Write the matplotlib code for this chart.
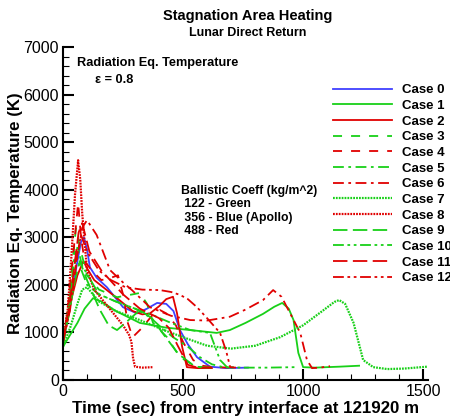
import matplotlib
matplotlib.use('Agg')
import matplotlib.pyplot as plt
from matplotlib.ticker import MultipleLocator

plt.rcParams['font.family'] = ['Liberation Sans', 'DejaVu Sans']

GREEN = '#18d018'
RED = '#e00000'
BLUE = '#4040ff'

# time (s) / radiation eq. temperature (K)
t0 = [0, 20, 40, 60, 75, 87, 100, 112, 140, 183, 250, 308, 350, 392, 430, 460, 487, 520, 558, 612, 680, 770]
T0 = [800, 1300, 1900, 2500, 2900, 3000, 2750, 2370, 2150, 1950, 1530, 1400, 1500, 1620, 1600, 1450, 1050, 750, 480, 280, 250, 260]

t1 = [0, 30, 60, 90, 125, 160, 220, 320, 430, 530, 640, 695, 760, 833, 880, 913, 940, 960, 980, 1000, 1050, 1150, 1233]
T1 = [700, 950, 1200, 1500, 1720, 1650, 1450, 1200, 1100, 1050, 990, 1050, 1200, 1390, 1540, 1620, 1500, 1260, 570, 270, 260, 280, 300]

t2 = [0, 30, 60, 85, 100, 130, 180, 230, 290, 330, 362, 400, 430, 458, 475, 496, 516, 560, 620]
T2 = [800, 1600, 2200, 2500, 2350, 2100, 1900, 1700, 1450, 1380, 1400, 1550, 1700, 1750, 1400, 700, 270, 250, 250]

t3 = [0, 20, 40, 54, 70, 100, 150, 225, 290, 320, 350, 375, 433, 487, 558, 620]
T3 = [750, 1400, 2500, 3190, 2800, 2200, 1900, 1740, 1800, 1830, 1600, 1200, 900, 480, 270, 260]

t4 = [0, 20, 40, 55, 63, 75, 90, 120, 160, 200, 229, 250, 270, 290, 330, 370, 404, 430, 470, 500, 542, 580, 625, 700]
T4 = [800, 1500, 2500, 3300, 3720, 3000, 2500, 2300, 2100, 2150, 2200, 1800, 1200, 900, 1100, 1350, 1470, 1400, 1150, 800, 420, 300, 270, 260]

t5 = [0, 25, 50, 70, 100, 150, 220, 300, 362, 410, 458, 520, 570, 620, 667, 710]
T5 = [750, 1600, 2700, 2400, 2000, 1800, 1650, 1500, 1320, 1100, 900, 700, 480, 330, 270, 260]

t6 = [0, 30, 60, 80, 100, 140, 196, 250, 287, 362, 450, 530, 600, 695, 760, 833, 875, 910, 946, 988, 1016, 1037, 1070, 1112]
T6 = [800, 1500, 2600, 3200, 3360, 3050, 2310, 2050, 1890, 1530, 1350, 1260, 1250, 1330, 1480, 1680, 1890, 1750, 1400, 990, 420, 250, 260, 290]

t7 = [0, 30, 60, 80, 100, 150, 220, 320, 420, 500, 600, 700, 800, 904, 1000, 1080, 1130, 1150, 1175, 1210, 1250, 1292, 1350, 1420, 1517]
T7 = [700, 1100, 1600, 1900, 1950, 1650, 1450, 1260, 1050, 900, 720, 660, 720, 900, 1150, 1450, 1640, 1680, 1600, 1200, 420, 270, 230, 240, 280]

t8 = [0, 20, 35, 50, 63, 72, 80, 100, 130, 170, 210, 250, 275, 285, 292, 300, 330, 375]
T8 = [800, 1500, 2600, 3900, 4620, 4200, 3500, 2300, 1900, 1650, 1400, 1150, 950, 800, 450, 280, 260, 270]

t9 = [0, 25, 50, 70, 100, 154, 190, 225, 260, 320, 370, 420, 480, 550, 620]
T9 = [750, 1400, 2100, 2500, 2100, 1470, 1150, 1050, 1200, 1470, 1300, 950, 550, 280, 260]

t10 = [0, 25, 45, 60, 80, 150, 220, 300, 380, 450, 530, 612, 654, 683, 750, 850, 967]
T10 = [750, 1500, 2300, 2800, 2400, 1800, 1650, 1500, 1350, 1200, 1050, 990, 420, 270, 260, 260, 270]

t11 = [0, 25, 50, 65, 80, 110, 160, 250, 320, 400, 440, 480, 520, 560, 620]
T11 = [800, 1500, 2500, 3100, 3300, 2700, 2300, 1800, 1500, 1300, 1100, 700, 320, 260, 260]

t12 = [0, 30, 55, 75, 100, 150, 200, 260, 330, 404, 450, 487, 520, 558, 600, 654, 680, 696, 720]
T12 = [800, 1500, 2500, 3050, 2700, 2300, 2100, 1950, 1900, 1890, 1850, 1790, 1700, 1530, 1300, 990, 600, 270, 260]

dotted = (0, (0.8, 0.5))
dashed = (0, (5, 5))
longdash = (0, (8, 3))
dashdot = (0, (6, 2.5, 1.5, 2.5))
dashdotdot = (0, (6, 2, 1.5, 2, 1.5, 2))

series = [
    (t0, T0, BLUE, '-'),
    (t1, T1, GREEN, '-'),
    (t2, T2, RED, '-'),
    (t3, T3, GREEN, dashed),
    (t4, T4, RED, dashed),
    (t5, T5, GREEN, dashdot),
    (t6, T6, RED, dashdot),
    (t7, T7, GREEN, dotted),
    (t8, T8, RED, dotted),
    (t9, T9, GREEN, longdash),
    (t10, T10, GREEN, dashdotdot),
    (t11, T11, RED, longdash),
    (t12, T12, RED, dashdotdot),
]

fig = plt.figure(figsize=(4.5, 4.18), dpi=100)
ax = fig.add_axes([63 / 450, 38 / 418, 365 / 450, 333 / 418])

for i, (t, T, c, ls) in enumerate(series):
    lw = 1.6 if ls is dotted else 1.3
    ax.plot(t, T, color=c, linestyle=ls, linewidth=lw, label='Case %d' % i)

ax.set_xlim(0, 1520)
ax.set_ylim(0, 7000)
ax.xaxis.set_major_locator(MultipleLocator(500))
ax.xaxis.set_minor_locator(MultipleLocator(100))
ax.yaxis.set_major_locator(MultipleLocator(1000))
ax.yaxis.set_minor_locator(MultipleLocator(200))
ax.tick_params(which='major', direction='in', length=8, width=1.5, labelsize=11.5, pad=3)
ax.tick_params(which='minor', direction='in', length=4, width=0.8)
ax.tick_params(top=False, right=False)
for s in ['top', 'right']:
    ax.spines[s].set_visible(False)
for s in ['left', 'bottom']:
    ax.spines[s].set_linewidth(1.5)

ax.set_xlabel('Time (sec) from entry interface at 121920 m', fontsize=12.2, fontweight='bold', labelpad=1)
ax.set_ylabel('Radiation Eq. Temperature (K)', fontsize=12.2, fontweight='bold', labelpad=0)

fig.text(0.5 + 0.05, 1 - 16 / 418, 'Stagnation Area Heating', ha='center', va='center', fontsize=10.5, fontweight='bold')
fig.text(0.5 + 0.05, 1 - 33 / 418, 'Lunar Direct Return', ha='center', va='center', fontsize=9, fontweight='bold')

fig.text(77 / 450, 1 - 63 / 418, 'Radiation Eq. Temperature', ha='left', va='center', fontsize=9.2, fontweight='bold')
fig.text(95 / 450, 1 - 80 / 418, '\u03b5 = 0.8', ha='left', va='center', fontsize=9.2, fontweight='bold')

bc = ['Ballistic Coeff (kg/m^2)', ' 122 - Green', ' 356 - Blue (Apollo)', ' 488 - Red']
for k, line in enumerate(bc):
    fig.text(181 / 450, 1 - (191 + 13.3 * k) / 418, line, ha='left', va='center', fontsize=8.8, fontweight='bold')

leg = fig.legend(loc='upper left', bbox_to_anchor=(333 / 450, 1 - 84 / 418), frameon=False,
                 prop={'size': 9.5, 'weight': 'bold'}, handlelength=4.5, handletextpad=0.7,
                 labelspacing=0.26, borderpad=0, borderaxespad=0)

fig.savefig('out.png', dpi=100)
